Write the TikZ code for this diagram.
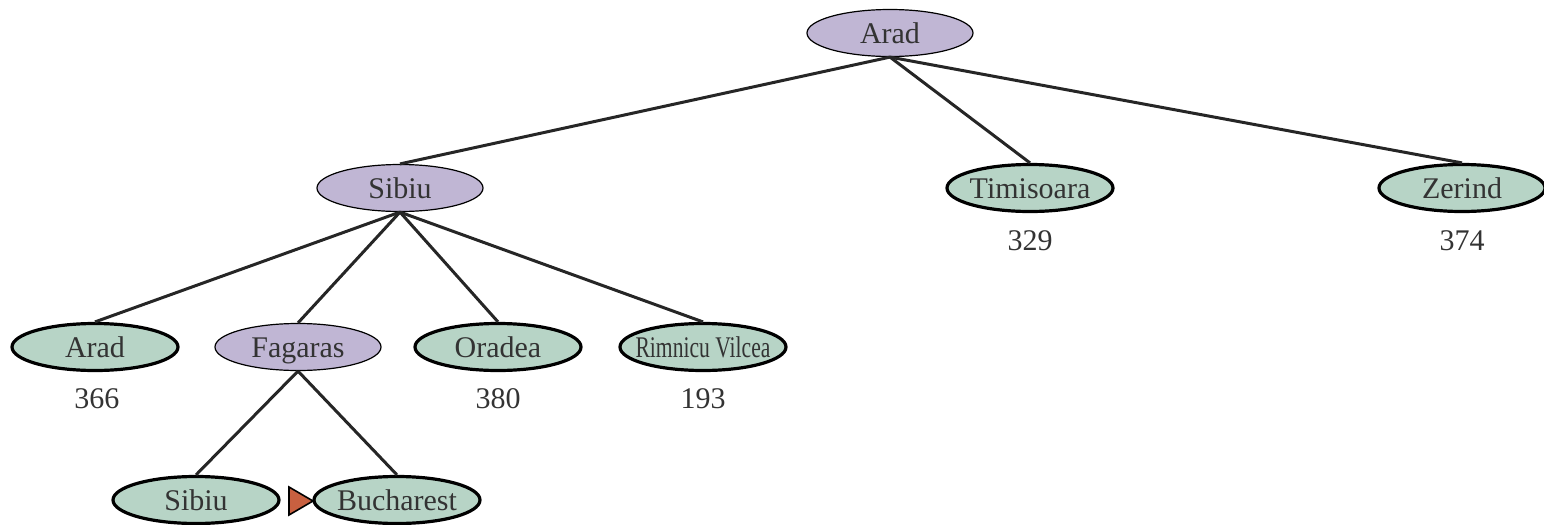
\documentclass[tikz,border=0pt]{standalone}
\usepackage{fontspec}
\setmainfont{Liberation Serif}
\usetikzlibrary{shapes.geometric}
\definecolor{lav}{RGB}{192,182,212}
\definecolor{grn}{RGB}{183,212,198}
\definecolor{mark}{RGB}{200,96,64}
\tikzset{
  base/.style={ellipse, minimum width=83pt, minimum height=23.5pt, inner sep=0pt, text height=12pt, text depth=2pt, font=\fontsize{15}{15}\selectfont, text=black!80},
  open/.style={base, fill=lav, draw=black, line width=0.6pt},
  leaf/.style={base, fill=grn, draw=black, line width=1.6pt},
  val/.style={font=\fontsize{15}{15}\selectfont, text=black!80},
  edge/.style={line width=1.5pt, draw=black!85}
}
\begin{document}
\begin{tikzpicture}[x=0.5pt,y=-0.5pt]
\useasboundingbox (0,0) rectangle (1544,525);
\node[open] (arad) at (890,33) {Arad};
\node[open] (sibiu) at (400,188) {Sibiu};
\node[leaf] (tim) at (1030,188) {\makebox[0pt]{Timisoara}};
\node[leaf] (zer) at (1462,188) {Zerind};
\node[leaf] (arad2) at (95,347) {Arad};
\node[open] (fag) at (298,347) {Fagaras};
\node[leaf] (ora) at (498,347) {Oradea};
\node[leaf] (rim) at (703,347) {\makebox[0pt]{\scalebox{0.72}[1]{Rimnicu Vilcea}}};
\node[leaf] (sib2) at (196,500) {Sibiu};
\node[leaf] (buc) at (397,500) {\makebox[0pt]{Bucharest}};
\node[val] (v329) at (1030,241) {329};
\node[val] (v374) at (1462,241) {374};
\node[val] (v366) at (97,399) {366};
\node[val] (v380) at (498,399) {380};
\node[val] (v193) at (703,399) {193};
\draw[edge] (arad.south) -- (sibiu.north);
\draw[edge] (arad.south) -- (tim.north);
\draw[edge] (arad.south) -- (zer.north);
\draw[edge] (sibiu.south) -- (arad2.north);
\draw[edge] (sibiu.south) -- (fag.north);
\draw[edge] (sibiu.south) -- (ora.north);
\draw[edge] (sibiu.south) -- (rim.north);
\draw[edge] (fag.south) -- (sib2.north);
\draw[edge] (fag.south) -- (buc.north);
\draw[fill=mark, draw=black, line width=0.8pt] (289,487) -- (289,515) -- (313,501) -- cycle;
\end{tikzpicture}
\end{document}
